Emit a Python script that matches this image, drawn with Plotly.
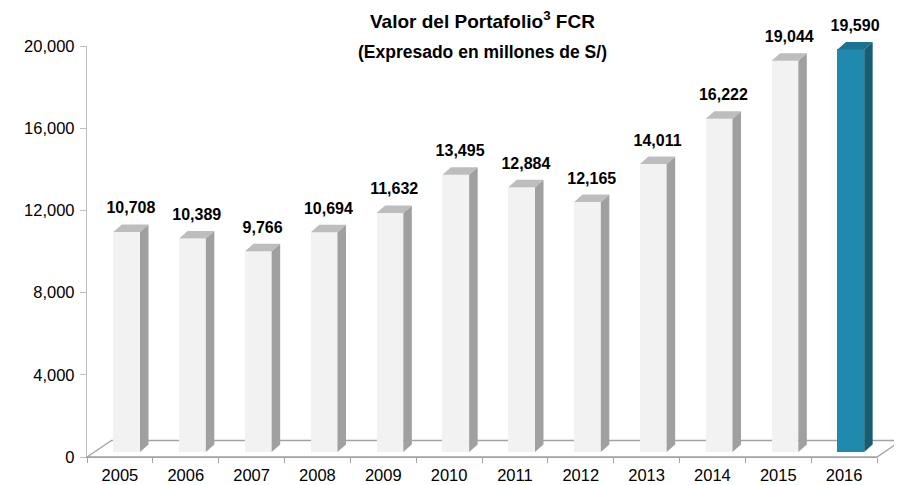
import plotly.graph_objects as go

# ---------------- data ----------------
years = ["2005", "2006", "2007", "2008", "2009", "2010",
         "2011", "2012", "2013", "2014", "2015", "2016"]
values = [10708, 10389, 9766, 10694, 11632, 13495,
          12884, 12165, 14011, 16222, 19044, 19590]
y_ticks = [0, 4000, 8000, 12000, 16000, 20000]
title_text = "<b>Valor del Portafolio<sup>3</sup> FCR</b>"
subtitle_text = "<b>(Expresado en millones de S/)</b>"

# ---------------- style / layout constants ----------------
OFF = 8                          # default page (body) margin of the html page
W, H = 902 - OFF, 485 - OFF      # figure size so that it fits the window
# primary plot area, in figure pixels
PX_L, PX_R, PX_T, PX_B = 87 - OFF, 877 - OFF, 46 - OFF, 457 - OFF
Y_MAX = 20000
n = len(years)
cw = (PX_R - PX_L) / n                          # px per category
ky = (PX_B - PX_T) / Y_MAX                      # px per value unit

def dx(px):
    return px / cw

def dy(px):
    return px / ky

# bar geometry in pixels (relative to category left boundary)
FRONT_L, FRONT_W = 26.3, 26.7
DEPTH_X, DEPTH_Y = 8.5, 7.5
LIFT = 5.0                      # front face bottom above floor front edge
FLOOR_DX, FLOOR_DY = 24.5, 16.5
LABEL_GAP = 22.5

GRAY = dict(front="#F2F2F2", side="#A0A0A0", top="#BDBDBD")
BLUE = dict(front="#1F8AAD", side="#175E74", top="#1B7190")
highlight = {n - 1}
FONT = "Liberation Sans, Arial, sans-serif"

def col(i, face):
    return (BLUE if i in highlight else GRAY)[face]

base = dy(LIFT)
x_left = [i - 0.5 + dx(FRONT_L) for i in range(n)]
x_right = [xl + dx(FRONT_W) for xl in x_left]
tops = [base + v for v in values]
ddx, ddy = dx(DEPTH_X), dy(DEPTH_Y)

fig = go.Figure()

# invisible trace driving the primary (labelled) axes
fig.add_trace(go.Scatter(x=years, y=values, mode="markers",
                         marker=dict(opacity=0, size=1), hoverinfo="skip",
                         showlegend=False, xaxis="x", yaxis="y"))

# front faces
fig.add_trace(go.Bar(
    x=list(range(n)), y=values, base=base,
    width=dx(FRONT_W), offset=-0.5 + dx(FRONT_L),
    marker=dict(color=[col(i, "front") for i in range(n)], line=dict(width=0)),
    xaxis="x2", yaxis="y2", showlegend=False, hoverinfo="skip"))

# side & top faces
for face in ("side", "top"):
    for group in (GRAY, BLUE):
        xs, ys = [], []
        for i in range(n):
            if (BLUE if i in highlight else GRAY) is not group:
                continue
            xl, xr, t = x_left[i], x_right[i], tops[i]
            if face == "side":
                xs += [xr, xr + ddx, xr + ddx, xr, xr, None]
                ys += [base, base + ddy, t + ddy, t, base, None]
            else:
                xs += [xl, xr, xr + ddx, xl + ddx, xl, None]
                ys += [t, t, t + ddy, t + ddy, t, None]
        if xs:
            fig.add_trace(go.Scatter(
                x=xs, y=ys, mode="lines", fill="toself",
                fillcolor=group[face], line=dict(width=0, color=group[face]),
                xaxis="x2", yaxis="y2", showlegend=False, hoverinfo="skip"))

# value labels
fig.add_trace(go.Scatter(
    x=[(xl + xr + ddx) / 2 for xl, xr in zip(x_left, x_right)],
    y=[t + dy(LABEL_GAP) for t in tops],
    mode="text", text=[f"{v:,}" for v in values],
    textposition="middle center",
    textfont=dict(family=FONT, size=16, color="#000000", weight="bold"),
    cliponaxis=False, xaxis="x2", yaxis="y2", showlegend=False, hoverinfo="skip"))

# floor (drawn below the bars)
x0f, x1f = -0.5, n - 0.5
fx, fy = dx(FLOOR_DX), dy(FLOOR_DY)
floor_path = (f"M {x0f},0 L {x1f},0 L {x1f + fx},{fy} L {x0f + fx},{fy} Z")
fig.add_shape(type="path", path=floor_path, xref="x2", yref="y2",
              line=dict(color="#A3A3A3", width=1.3), fillcolor="rgba(0,0,0,0)",
              layer="below")

# axes ranges for the full-figure overlay subplot
x2_range = [-0.5 - PX_L / cw, -0.5 + (W - PX_L) / cw]
y2_range = [-(H - PX_B) / ky, PX_B / ky]

tick_font = dict(family=FONT, size=16.5, color="#000000")

fig.update_layout(
    width=W, height=H,
    margin=dict(l=0, r=0, t=0, b=0, pad=0),
    paper_bgcolor="white", plot_bgcolor="rgba(0,0,0,0)",
    showlegend=False,
    xaxis=dict(domain=[PX_L / W, PX_R / W], type="category",
               categoryorder="array", categoryarray=years,
               range=[-0.5, n - 0.5], tickson="boundaries",
               ticks="outside", ticklen=5, tickcolor="#A3A3A3", tickwidth=1.3,
               showline=True, linecolor="#A3A3A3", linewidth=1.3,
               showgrid=False, zeroline=False, tickfont=tick_font,
               ticklabelstandoff=3, automargin=False, fixedrange=True),
    yaxis=dict(domain=[(H - PX_B) / H, (H - PX_T) / H],
               range=[0, Y_MAX], tickvals=y_ticks, tickformat=",d",
               ticks="outside", ticklen=6, tickcolor="#BFBFBF", tickwidth=1.3,
               showline=True, linecolor="#BFBFBF", linewidth=1.3,
               showgrid=False, zeroline=False, tickfont=tick_font,
               ticklabelstandoff=2, automargin=False, fixedrange=True),
    xaxis2=dict(domain=[0, 1], range=x2_range, anchor="y2", visible=False,
                automargin=False, fixedrange=True),
    yaxis2=dict(domain=[0, 1], range=y2_range, anchor="x2", visible=False,
                automargin=False, fixedrange=True),
    bargap=0,
    annotations=[
        dict(text=title_text, x=(482 - OFF) / W, y=1 - (20 - OFF) / H,
             xref="paper", yref="paper",
             showarrow=False, xanchor="center", yanchor="middle",
             font=dict(family=FONT, size=19, color="#000000")),
        dict(text=subtitle_text, x=(482 - OFF) / W, y=1 - (52 - OFF) / H,
             xref="paper", yref="paper",
             showarrow=False, xanchor="center", yanchor="middle",
             font=dict(family=FONT, size=17.5, color="#000000")),
    ],
)

fig.write_html("out.html")
